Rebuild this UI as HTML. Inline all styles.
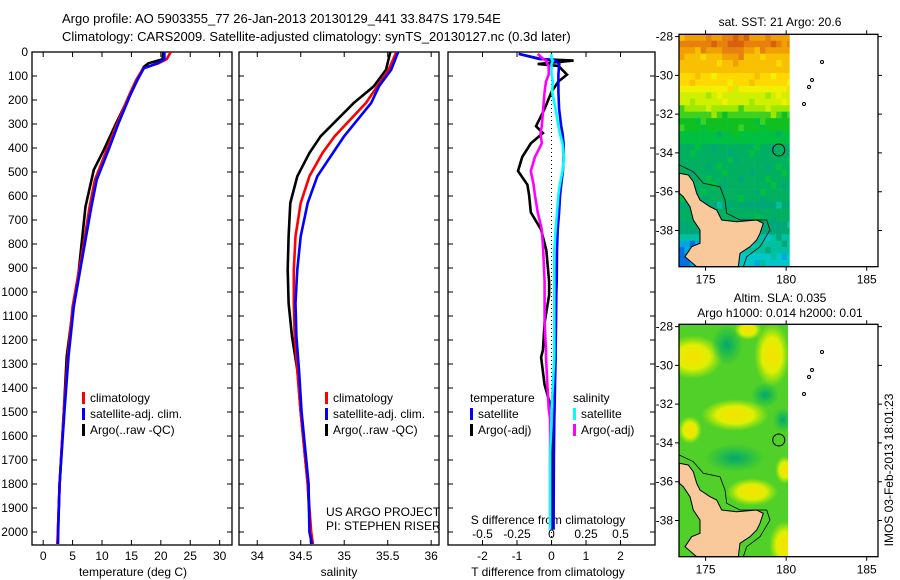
<!DOCTYPE html>
<html><head><meta charset="utf-8">
<style>
html,body{margin:0;padding:0;background:#fff;}
svg{display:block;font-family:"Liberation Sans",sans-serif;}
text{font-size:12px;fill:#000;}
</style></head>
<body>
<svg id="fig" width="900" height="580" viewBox="0 0 900 580" xmlns="http://www.w3.org/2000/svg">
<defs>
<clipPath id="c1"><rect x="32" y="52" width="200" height="493"/></clipPath>
<clipPath id="c2"><rect x="239" y="52" width="200" height="493"/></clipPath>
<clipPath id="c3"><rect x="448" y="52" width="207" height="493"/></clipPath>
<clipPath id="m2clip"><rect x="679" y="324" width="109" height="233"/></clipPath>
<radialGradient id="gy"><stop offset="0" stop-color="#f8e000"/><stop offset="0.55" stop-color="#e8f000" stop-opacity="0.95"/><stop offset="1" stop-color="#c0f000" stop-opacity="0"/></radialGradient>
<radialGradient id="gt"><stop offset="0" stop-color="#00a870"/><stop offset="1" stop-color="#00b060" stop-opacity="0"/></radialGradient>
</defs>
<text x="62" y="23" style="font-size:13px">Argo profile: AO 5903355_77 26-Jan-2013 20130129_441 33.847S 179.54E</text>
<text x="62" y="41" style="font-size:13px">Climatology: CARS2009. Satellite-adjusted climatology: synTS_20130127.nc (0.3d later)</text>
<g id="p1"></g>
<g id="p2"></g>
<g id="p3"></g>
<g id="m1"></g>
<g id="m2"></g>
<text transform="translate(893,470) rotate(-90)" text-anchor="middle">IMOS 03-Feb-2013 18:01:23</text>
</svg>
<script>
// ---- data ----
const depthTicks = [0,100,200,300,400,500,600,700,800,900,1000,1100,1200,1300,1400,1500,1600,1700,1800,1900,2000];
const tTicks = [0,5,10,15,20,25,30];
const sTicks = [34,34.5,35,35.5,36];
const sTickLabels = ["34","34.5","35","35.5","36"];
const dTicks = [-2,-1,0,1,2];
const sdTicks = [-0.5,-0.25,0,0.25,0.5];
const sdTickLabels = ["-0.5","-0.25","0","0.25","0.5"];

const tDepth = [0,30,47,68,117,186,297,408,533,644,783,922,1061,1269,1500,1800,2000,2050];
const tClim  = [21.7,21.0,19.6,17.0,15.8,14.5,12.6,10.8,8.8,7.9,7.0,6.0,5.0,4.2,3.5,2.8,2.5,2.4];
const tSat   = [20.6,20.6,19.4,17.1,16.0,14.7,12.8,11.1,9.1,8.2,7.2,6.2,5.2,4.3,3.6,2.8,2.55,2.5];
const tArgoDepth = [0,30,47,62,117,186,297,408,491,644,783,922,1061,1269,1500,1800,2000,2050];
const tArgo  = [20.4,20.3,17.9,17.1,16.0,14.6,12.4,10.3,8.6,7.2,6.6,6.0,5.1,4.0,3.5,2.8,2.5,2.5];

const sDepth = [0,74,143,212,351,421,518,629,768,907,1046,1185,1324,1500,1800,2000,2050];
const sClim  = [35.60,35.51,35.38,35.25,34.89,34.75,34.60,34.50,34.44,34.42,34.42,34.43,34.46,34.50,34.58,34.62,34.64];
const sSat   = [35.62,35.54,35.40,35.31,35.00,34.87,34.69,34.58,34.50,34.46,34.44,34.45,34.48,34.51,34.59,34.60,34.63];
const sArgo  = [35.53,35.48,35.34,35.11,34.73,34.60,34.46,34.38,34.36,34.35,34.36,34.40,34.46,34.50,34.58,34.61,34.62];

const dDepth = [8,29,36,50,58,94,123,166,237,309,338,381,438,496,553,596,668,740,826,956,1013,1128,1243,1272,1387,1487,1530,1674,1962,1990];
const dTSat  = [-0.95,-0.3,0.1,0.23,0.22,0.2,0.2,0.2,0.22,0.28,0.32,0.35,0.35,0.33,0.28,0.25,0.22,0.18,0.16,0.15,0.14,0.13,0.12,0.12,0.1,0.09,0.08,0.07,0.06,0.06];
const dTArgo = [-0.95,-0.35,0.64,-0.4,0.2,0.45,0.2,0.0,-0.2,-0.45,-0.25,-0.6,-0.85,-0.97,-0.7,-0.65,-0.6,-0.3,-0.15,-0.07,-0.07,-0.2,-0.25,-0.3,-0.2,0.0,0.0,0.0,0.02,0.03];
const dSSat  = [0.0,0.0,0.01,0.0,0.0,0.0,0.01,0.004,0.03,0.05,0.06,0.08,0.09,0.08,0.06,0.05,0.04,0.03,0.02,0.02,0.02,0.02,0.02,0.02,0.01,0.0,0.0,-0.01,-0.01,-0.01];
const dSArgo = [-0.1,-0.06,-0.04,-0.03,-0.02,-0.02,-0.04,-0.05,-0.06,-0.07,-0.08,-0.07,-0.12,-0.15,-0.13,-0.12,-0.1,-0.07,-0.06,-0.05,-0.05,-0.05,-0.04,-0.04,-0.03,-0.02,-0.01,-0.01,-0.01,-0.01];

const floatLon = 179.54, floatLat = -33.847;
const mapLonTicks = [175,180,185];
const mapLatTicks = [-28,-30,-32,-34,-36,-38];

// ---- helpers ----
const NS="http://www.w3.org/2000/svg";
function mk(tag, attrs, parent){const e=document.createElementNS(NS,tag);for(const k in attrs)e.setAttribute(k,attrs[k]);parent.appendChild(e);return e;}
const Y0=52, YB=545;
function yD(d){return Y0 + d*0.24;}

function panel(g, x0, x1, xmin, xmax){
  const xs = v => x0 + (v-xmin)/(xmax-xmin)*(x1-x0);
  const r = mk('rect',{x:x0,y:Y0,width:x1-x0,height:YB-Y0,fill:'none',stroke:'#000','stroke-width':1.3},g);
  
  
  depthTicks.forEach(d=>{
    const y=yD(d);
    const t=mk('path',{d:`M${x0},${y}h5M${x1},${y}h-5`,stroke:'#000','stroke-width':1},g);
    
    
  });
  return xs;
}
function xticks(g, xs, vals, labels, yl){
  vals.forEach((v,i)=>{
    const x=xs(v);
    const t=mk('path',{d:`M${x},${Y0}v5M${x},${YB}v-5`,stroke:'#000','stroke-width':1},g);
    
    
    const l=mk('text',{x:x,y:yl,'text-anchor':'middle'},g);
    l.textContent = labels ? labels[i] : String(v);
    
    
  });
}
function line(g, xs, xv, dv, color, name, w){
  const pts = xv.map((v,i)=>xs(v).toFixed(1)+','+yD(dv[i]).toFixed(1)).join(' ');
  const p=mk('polyline',{points:pts,fill:'none',stroke:color,'stroke-width':w||2.6,'stroke-linejoin':'miter'},g);
  
  
}
function legend(g, x, y, items){
  items.forEach((it,i)=>{
    const yy=y+i*16;
    if(it[1]){
      const b=mk('rect',{x:x,y:yy-10,width:3,height:12,fill:it[1]},g);
      
      
    }
    const t=mk('text',{x:x+(it[1]?8:0),y:yy},g);
    t.textContent=it[0];
    
    
  });
}

// ---- panel 1 ----
const g1=document.getElementById('p1');
const xT=panel(g1,32,232,-1.9,32.1);
depthTicks.forEach(d=>{const t=mk('text',{x:28,y:yD(d)+4,'text-anchor':'end'},g1);t.textContent=String(d);
  
  });
xticks(g1,xT,tTicks,null,560);
{const t=mk('text',{x:133,y:576,'text-anchor':'middle'},g1);t.textContent='temperature (deg C)';
 
 }
const gl1=mk('g',{'clip-path':'url(#c1)'},g1);
line(gl1,xT,tArgo,tArgoDepth,'#000','argo-temperature-line');
line(gl1,xT,tClim,tDepth,'#f00','climatology-temperature-line');
line(gl1,xT,tSat,tDepth,'#00f','satellite-temperature-line');
legend(g1,82,402,[['climatology','#f00'],['satellite-adj. clim.','#00f'],['Argo(..raw -QC)','#000']]);

// ---- panel 2 ----
const g2=document.getElementById('p2');
const xS=panel(g2,239,439,33.79,36.09);
xticks(g2,xS,sTicks,sTickLabels,560);
{const t=mk('text',{x:339,y:576,'text-anchor':'middle'},g2);t.textContent='salinity';
 
 }
const gl2=mk('g',{'clip-path':'url(#c2)'},g2);
line(gl2,xS,sArgo,sDepth,'#000','argo-salinity-line');
line(gl2,xS,sClim,sDepth,'#f00','climatology-salinity-line');
line(gl2,xS,sSat,sDepth,'#00f','satellite-salinity-line');
legend(g2,325,402,[['climatology','#f00'],['satellite-adj. clim.','#00f'],['Argo(..raw -QC)','#000']]);
{const t=mk('text',{x:326,y:516},g2);t.textContent='US ARGO PROJECT';
 
 
 const u=mk('text',{x:326,y:530},g2);u.textContent='PI: STEPHEN RISER';
 
 }

// ---- panel 3 ----
const g3=document.getElementById('p3');
const xD=panel(g3,448,655,-3,3);
const xSD = v => xD(v*4);
xticks(g3,xD,dTicks,null,560);
sdTicks.forEach((v,i)=>{const t=mk('text',{x:xSD(v),y:538,'text-anchor':'middle'},g3);t.textContent=sdTickLabels[i];
  
  });
{const t=mk('text',{x:548,y:524,'text-anchor':'middle'},g3);t.textContent='S difference from climatology';
 
 
 const u=mk('text',{x:548,y:576,'text-anchor':'middle'},g3);u.textContent='T difference from climatology';
 
 }
{const z=mk('line',{x1:xD(0),x2:xD(0),y1:Y0,y2:YB,stroke:'#000','stroke-width':1,'stroke-dasharray':'1,3'},g3);
 
 }
const gl3=mk('g',{'clip-path':'url(#c3)'},g3);
line(gl3,xD,dTArgo,dDepth,'#000','argo-t-diff-line');
line(gl3,xD,dTSat,dDepth,'#00f','satellite-t-diff-line');
line(gl3,xSD,dSArgo,dDepth,'#f0f','argo-s-diff-line');
line(gl3,xSD,dSSat,dDepth,'#0ff','satellite-s-diff-line');
legend(g3,470,402,[['temperature',null],['satellite','#00f'],['Argo(-adj)','#000']]);
legend(g3,573,402,[['salinity',null],['satellite','#0ff'],['Argo(-adj)','#f0f']]);

// ---- maps ----
const MX0=679, MX1=878, LON0=173.35, LON1=185.7;
function mapScales(top, bot){
  const lx = lon => MX0 + (lon-LON0)/(LON1-LON0)*(MX1-MX0);
  const ly = lat => top + (-27.88-lat)/(39.87-27.88)*(bot-top);
  return {lx, ly};
}
const SSTcols=['#d86010','#e88010','#f0a000','#f8c000','#ffd800','#f0f000','#d0f000','#a0e800','#40d020','#10c020','#00c040','#00b060','#00a878','#00c0a0','#00c8c8','#00a8e0','#0070e0'];
const rowBand=[2,1,2,3,3,3,4,4,5,6,6,7,8,9,9,10,10,11,11,11,11,11,11,11,11,11,12,11,11,12,12,13,13,13,14,14,14];
function drawMap(gid, top, bot, isSST){
  const g=document.getElementById(gid);
  const {lx,ly}=mapScales(top,bot);
  const dx0=MX0, dx1=lx(180.2);
  if(isSST){
    const cw=5.4, ch=6.45;
    for(let r=0;r*ch<bot-top;r++){
      for(let c=0;c*cw<dx1-dx0;c++){
        let band = rowBand[Math.min(r,rowBand.length-1)];
        if(r<4 && c>7 && c<12) band=Math.max(0,band-1);
        if(r<1 && c>9 && c<13) band=0;
        if(r>=32 && c<5) band=15;
        if(r>=34 && c<2) band=16;
        const hsh=(r*37+c*53+r*c*7)%11;
        const v=hsh===0?1:(hsh===1?-1:0);
        const k=Math.max(0,Math.min(SSTcols.length-1,band+v));
        const h=Math.min(ch,bot-top-r*ch), w=Math.min(cw,dx1-dx0-c*cw);
        const cell=mk('rect',{x:dx0+c*cw,y:top+r*ch,width:w+0.3,height:h+0.3,fill:SSTcols[k]},g);
        
        
      }
    }
  } else {
    const cg=mk('g',{'clip-path':'url(#m2clip)'},g);
    mk('rect',{x:dx0,y:top,width:dx1-dx0,height:bot-top,fill:'#50d028'},cg);
    [[693,357,30,22,'gy'],[772,355,18,32,'gy'],[748,330,14,10,'gy'],[735,415,34,16,'gy'],[752,492,26,14,'gy'],[785,545,16,24,'gy'],[690,430,12,14,'gy'],[785,470,10,14,'gy'],[727,345,16,20,'gt'],[735,458,30,14,'gt'],[765,395,14,12,'gt'],[783,420,10,12,'gt']].forEach(b=>{
      const c=mk('ellipse',{cx:b[0],cy:b[1],rx:b[2],ry:b[3],fill:`url(#${b[4]})`},cg);
      
      
    });
  }
  const off = top-34.3;
  const land=[[58,520],[85,525],[100,545],[110,580],[120,600],[150,620],[170,630],[185,660],[230,665],[290,660],[310,670],[300,700],[290,720],[270,740],[240,760],[235,800],[110,800],[75,770],[95,740],[120,730],[120,690],[100,660],[90,620],[70,590],[58,580]];
  const pts=land.map(p=>(660+p[0]/3).toFixed(1)+','+(Math.min(p[1]/3+off, bot)).toFixed(1)).join(' ');
  const L=mk('polygon',{points:pts,fill:'#f9c89b',stroke:'#000','stroke-width':1},g);
  
  
  const cont=[[58,495],[100,515],[130,550],[180,560],[195,600],[200,640],[240,660],[320,660],[330,690],[300,740],[260,770],[250,800]];
  const cp=mk('polyline',{points:cont.map(p=>(660+p[0]/3).toFixed(1)+','+(p[1]/3+off).toFixed(1)).join(' '),fill:'none',stroke:'#000','stroke-width':0.8},g);
  
  
  [[822,62],[812,80],[809,87],[804,104]].forEach(p=>{
    const i=mk('circle',{cx:p[0],cy:p[1]+off,r:1.5,fill:'none',stroke:'#000','stroke-width':1},g);
    
    
  });
  const fc=mk('circle',{cx:lx(floatLon),cy:ly(floatLat),r:6,fill:'none',stroke:'#000','stroke-width':1},g);
  
  
  const fr=mk('rect',{x:MX0,y:top,width:MX1-MX0,height:bot-top,fill:'none',stroke:'#000','stroke-width':1.3},g);
  
  
  mapLonTicks.forEach(lon=>{
    const x=lx(lon);
    const t=mk('path',{d:`M${x},${top}v-4M${x},${bot}v4`,stroke:'#000'},g);
    
    
    const l=mk('text',{x:x,y:bot+17,'text-anchor':'middle'},g);l.textContent=String(lon);
    
    
  });
  mapLatTicks.forEach(lat=>{
    const y=ly(lat);
    const t=mk('path',{d:`M${MX0},${y}h-4M${MX1},${y}h4`,stroke:'#000'},g);
    
    
    const l=mk('text',{x:673,y:y+4,'text-anchor':'end'},g);l.textContent=String(lat);
    
    
  });
}
drawMap('m1',34.3,266.7,true);
drawMap('m2',324.3,556.7,false);
{const m1=document.getElementById('m1');
 const t=mk('text',{x:780,y:26,'text-anchor':'middle'},m1);t.textContent='sat. SST: 21 Argo: 20.6';
 
 
 const m2=document.getElementById('m2');
 const a=mk('text',{x:780,y:302,'text-anchor':'middle'},m2);a.textContent='Altim. SLA: 0.035';
 
 
 const b=mk('text',{x:780,y:317,'text-anchor':'middle'},m2);b.textContent='Argo h1000: 0.014 h2000: 0.01';
 
 }
</script>
</body></html>
